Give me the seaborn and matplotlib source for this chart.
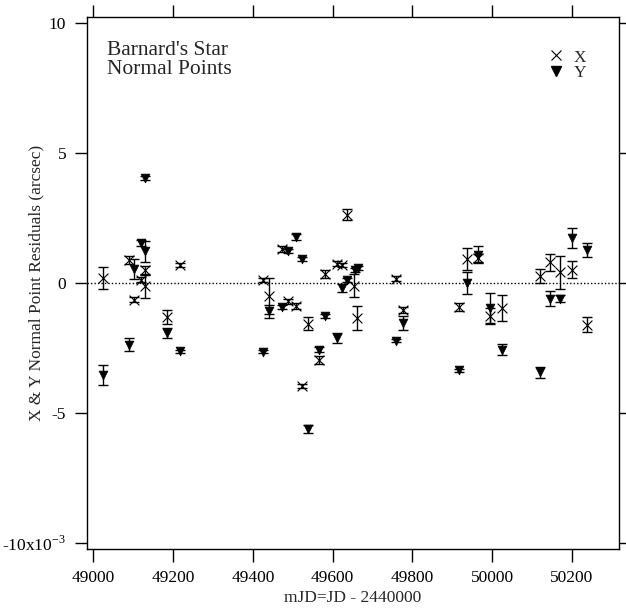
import matplotlib
matplotlib.use("Agg")
import matplotlib.pyplot as plt
import seaborn as sns
import pandas as pd
import numpy as np
from matplotlib.lines import Line2D

# ---- data (residuals in units of 1e-3 arcsec) ----
x_mjd = [49025, 49090, 49102, 49119, 49130, 49130, 49184, 49217, 49426, 49440,
         49474, 49489, 49507, 49524, 49537, 49566, 49581, 49612, 49623, 49637,
         49654, 49662, 49758, 49777, 49918, 49936, 49964, 49994, 50024, 50120,
         50145, 50169, 50199, 50237]
x_res = [0.19, 0.89, -0.64, 0.13, 0.51, -0.13, -1.31, 0.70, 0.13, -0.51,
         1.31, -0.71, -0.90, -3.95, -1.57, -2.95, 0.36, 0.74, 0.70, 2.63,
         -0.10, -1.35, 0.17, -1.03, -0.92, 0.92, 0.95, -1.28, -0.96, 0.26,
         0.79, 0.41, 0.51, -1.60]
x_err = [0.44, 0.16, 0.10, 0.10, 0.15, 0.45, 0.26, 0.07, 0.08, 0.70,
         0.13, 0.08, 0.12, 0.08, 0.25, 0.15, 0.15, 0.10, 0.08, 0.20,
         0.45, 0.45, 0.10, 0.12, 0.15, 0.43, 0.15, 0.30, 0.50, 0.26,
         0.32, 0.64, 0.32, 0.30]

y_mjd = [49025, 49090, 49102, 49119, 49130, 49130, 49184, 49217, 49426, 49440,
         49474, 49489, 49507, 49524, 49537, 49566, 49582, 49610, 49623, 49637,
         49656, 49664, 49758, 49777, 49918, 49936, 49964, 49994, 50024, 50120,
         50145, 50169, 50199, 50237]
y_res = [-3.53, -2.37, 0.54, 1.54, 1.22, 4.04, -1.92, -2.63, -2.65, -1.09,
         -0.94, 1.24, 1.77, 0.93, -5.62, -2.57, -1.28, -2.12, -0.20, 0.13,
         0.51, 0.57, -2.22, -1.54, -3.36, 0.00, 1.09, -0.96, -2.56, -3.44,
         -0.60, -0.60, 1.73, 1.28]
y_err = [0.38, 0.25, 0.37, 0.10, 0.40, 0.07, 0.20, 0.05, 0.06, 0.25,
         0.08, 0.08, 0.10, 0.08, 0.15, 0.10, 0.07, 0.20, 0.15, 0.08,
         0.08, 0.08, 0.06, 0.27, 0.05, 0.42, 0.32, 0.58, 0.20, 0.20,
         0.29, 0.15, 0.40, 0.27]

x_ticks = [49000, 49200, 49400, 49600, 49800, 50000, 50200]
y_ticks = [-10, -5, 0, 5, 10]
y_ticklabels = ["-10x10$^{\\mathregular{-3}}$", "-5", "0", "5", "10"]

sns.set_theme(style="ticks")
plt.rcParams["font.family"] = ["Liberation Serif", "DejaVu Serif"]
plt.rcParams["mathtext.fontset"] = "custom"
plt.rcParams["mathtext.rm"] = "Liberation Serif"

dfx = pd.DataFrame({"mjd": x_mjd, "res": x_res, "err": x_err})
dfy = pd.DataFrame({"mjd": y_mjd, "res": y_res, "err": y_err})

fig = plt.figure(figsize=(6.26, 6.08), dpi=100)
ax = fig.add_axes([87 / 626, 59 / 608, 532 / 626, 532 / 608])

ax.axhline(0, color="black", linestyle=(0, (1, 1.5)), linewidth=1.0, zorder=1)

for d in (dfx, dfy):
    ax.errorbar(d.mjd, d.res, yerr=d.err, fmt="none", ecolor="black",
                elinewidth=1.0, capsize=3.5, capthick=1.0, zorder=2)

sns.scatterplot(data=dfx, x="mjd", y="res", marker="x", s=50, color="black",
                linewidth=0.8, ax=ax, zorder=3, legend=False)
sns.scatterplot(data=dfy, x="mjd", y="res", marker="v", s=40, color="black",
                edgecolor="black", linewidth=0.5, ax=ax, zorder=3, legend=False)

handles = [Line2D([], [], marker="x", color="black", linestyle="none", markersize=7, markeredgewidth=0.8),
           Line2D([], [], marker="v", color="black", linestyle="none", markersize=7)]
ax.legend(handles, ["X", "Y"], loc="upper right", bbox_to_anchor=(0.962, 0.962),
          frameon=False, fontsize=12.5, handletextpad=0.45, labelspacing=-0.05,
          handlelength=1.2, borderpad=0.2)

ax.text(0.037, 0.955, "Barnard's Star\nNormal Points", transform=ax.transAxes,
        ha="left", va="top", fontsize=15.5, linespacing=1.0)

ax.set_xlim(48984, 50318)
ax.set_ylim(-10.24, 10.24)
ax.set_xticks(x_ticks)
ax.set_yticks(y_ticks)
ax.set_yticklabels(y_ticklabels)
ax.tick_params(axis="both", which="major", direction="out", length=9, width=1.0,
               labelsize=12.5, colors="black", top=True, right=True,
               labeltop=False, labelright=False, pad=6)
for s in ax.spines.values():
    s.set_visible(True)
    s.set_linewidth(1.0)
    s.set_color("black")

ax.set_xlabel("mJD=JD - 2440000", fontsize=12.5)
ax.set_ylabel("X & Y Normal Point Residuals (arcsec)", fontsize=12.5)
ax.xaxis.set_label_coords(0.5, -0.078)
ax.yaxis.set_label_coords(-0.081, 0.5)
ax.grid(False)

fig.savefig("out.png", dpi=100)
